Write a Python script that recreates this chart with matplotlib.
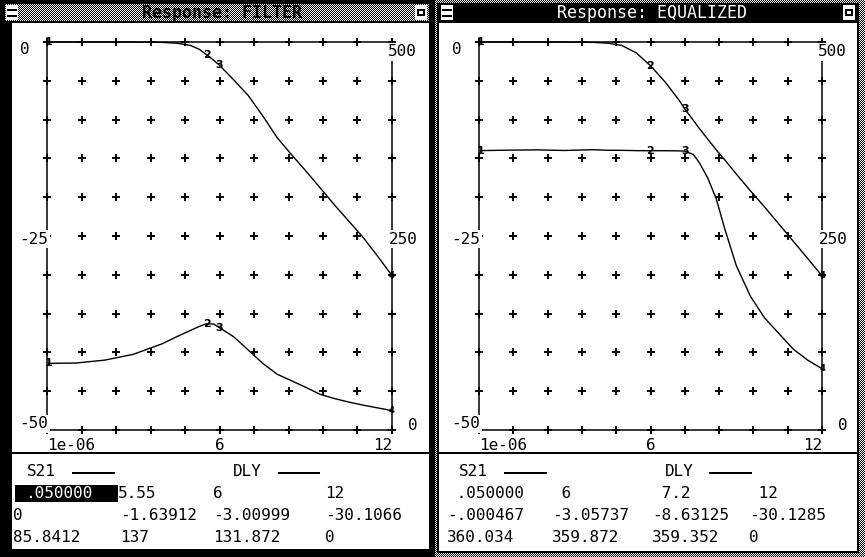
import numpy as np
import matplotlib
matplotlib.use("Agg")
import matplotlib.pyplot as plt
from matplotlib.patches import Rectangle

W, H = 865, 557
MONO = "DejaVu Sans Mono"

# ---- FILTER window traces -------------------------------------------------
filter_freq = [0.05, 1, 2, 3, 4, 4.5, 5, 5.3, 5.55, 5.8, 6, 6.5, 7, 7.5, 8,
               8.5, 9, 9.5, 10, 10.5, 11, 11.5, 12]
filter_s21 = [0, 0, 0, 0, -0.05, -0.15, -0.45, -0.95, -1.63912, -2.35,
              -3.00999, -4.9, -6.9, -9.5, -12.3, -14.5, -16.6, -18.8, -21.0,
              -23.1, -25.2, -27.6, -30.1066]
filter_dly = [85.8412, 86.3, 90, 97.5, 111, 120, 128.5, 133.5, 137, 136.5,
              131.872, 120, 103, 86, 72, 63.5, 55, 46, 40.5, 36, 32, 28.5, 25]
filter_markers = [0.05, 5.55, 6, 12]

# ---- EQUALIZED window traces ----------------------------------------------
eq_freq = [0.05, 1, 2, 3, 4, 4.5, 5, 5.5, 6, 6.5, 7, 7.2, 7.5, 7.7, 8, 8.3,
           8.6, 9, 9.5, 10, 10.5, 11, 11.5, 12]
eq_s21 = [-0.000467, 0, 0, 0, -0.05, -0.15, -0.45, -1.4, -3.05737, -5.1,
          -7.5, -8.63125, -10.1, -11.1, -12.5, -13.9, -15.2, -17.0, -19.2,
          -21.3, -23.5, -25.7, -27.9, -30.1285]
eq_dly = [360.034, 360.6, 361, 360.2, 361.2, 360.5, 360.4, 360, 359.872,
          359.9, 359.7, 359.352, 355, 345, 325, 298, 259, 212, 172, 144, 124,
          104, 90, 79]
eq_markers = [0.05, 6, 7.2, 12]

# ---- axis scales and labels -----------------------------------------------
freq_range = (1e-6, 12)
s21_range = (-50, 0)
dly_range = (0, 500)
x_tick_vals = [1e-6, 6, 12]
x_tick_text = ["1e-06", "6", "12"]
s21_tick_vals = [0, -25, -50]
s21_tick_text = ["0", "-25", "-50"]
dly_tick_vals = [500, 250, 0]
dly_tick_text = ["500", "250", "0"]

# ---- marker readouts --------------------------------------------------------
filter_readout = [[".050000", "5.55", "6", "12"],
                  ["0", "-1.63912", "-3.00999", "-30.1066"],
                  ["85.8412", "137", "131.872", "0"]]
eq_readout = [[" .050000", " 6", " 7.2", " 12"],
              ["-.000467", "-3.05737", "-8.63125", "-30.1285"],
              ["360.034", "359.872", "359.352", "0"]]

fig = plt.figure(figsize=(W / 100, H / 100), dpi=100)
fig.patch.set_facecolor("white")

bg = fig.add_axes([0, 0, 1, 1])
bg.set_xlim(0, W)
bg.set_ylim(H, 0)
bg.axis("off")


def rect(x0, y0, x1, y1, color, z=1):
    bg.add_patch(Rectangle((x0, y0), x1 - x0, y1 - y0, facecolor=color,
                           edgecolor="none", zorder=z))


def dither(x0, y0, x1, y1, z=2):
    arr = np.add.outer(np.arange(y1 - y0), np.arange(x1 - x0)) % 2
    bg.imshow(arr, cmap="gray", vmin=0, vmax=1, extent=(x0, x1, y1, y0),
              interpolation="nearest", zorder=z, aspect="auto")


def menu_icon(x0, y0):
    rect(x0, y0, x0 + 12, y0 + 15, "white", 5)
    rect(x0 + 1, y0 + 4, x0 + 11, y0 + 6, "black", 6)
    rect(x0 + 1, y0 + 10, x0 + 11, y0 + 12, "black", 6)


def size_icon(x0, y0):
    rect(x0, y0, x0 + 12, y0 + 15, "white", 5)
    rect(x0 + 2, y0 + 4, x0 + 10, y0 + 11, "black", 6)
    rect(x0 + 4, y0 + 6, x0 + 8, y0 + 9, "white", 7)


# window frames
rect(0, 0, 435, H, "black", 1)
rect(12, 23, 429, 549, "white", 2)
dither(5, 4, 429, 21, 3)
menu_icon(6, 5)
size_icon(415, 5)

dither(435, 0, W, H, 1)
rect(437, 3, 859, 553, "black", 2)
rect(439, 23, 857, 551, "white", 3)
menu_icon(441, 5)
size_icon(843, 5)

bg.text(222, 13, "Response: FILTER", ha="center", va="center",
        family=MONO, fontsize=12, fontweight="bold", color="black", zorder=8)
bg.text(652, 13, "Response: EQUALIZED", ha="center", va="center",
        family=MONO, fontsize=12, color="white", zorder=8)

# separators between plot and readout
rect(12, 452, 429, 454, "black", 4)
rect(439, 452, 857, 454, "black", 4)


def px_axes(x0, y0, x1, y1):
    return fig.add_axes([x0 / W, 1 - y1 / H, (x1 - x0) / W, (y1 - y0) / H])


LBL = dict(family=MONO, fontsize=11.5, color="black")
BOX = dict(boxstyle="square,pad=0.12", facecolor="white", edgecolor="none")


def draw_response(box, freq, s21, dly, markers):
    ax = px_axes(*box)
    ax.set_xlim(*freq_range)
    ax.set_ylim(*s21_range)
    ax.patch.set_alpha(0)
    ax.tick_params(length=0, labelleft=False, labelbottom=False)
    for sp in ax.spines.values():
        sp.set_linewidth(1.1)
    ax2 = ax.twinx()
    ax2.set_ylim(*dly_range)
    ax2.tick_params(length=0, labelright=False)
    for sp in ax2.spines.values():
        sp.set_visible(False)

    gx, gy = np.meshgrid(np.linspace(*freq_range, 11), np.linspace(*s21_range, 11))
    ax.plot(gx.ravel(), gy.ravel(), "+", color="black", ms=6, mew=1.4,
            clip_on=False, zorder=2)

    ax.plot(freq, s21, color="black", lw=1.0, zorder=3, clip_on=False)
    ax2.plot(freq, dly, color="black", lw=1.0, zorder=3, clip_on=False)

    for k, m in enumerate(markers):
        i = freq.index(m)
        size = 6 if k == len(markers) - 1 else 8
        ax.text(m, s21[i], str(k + 1), ha="center", va="center",
                fontsize=size, fontweight="bold", zorder=5)
        ax2.text(m, dly[i], str(k + 1), ha="center", va="center",
                 fontsize=size, fontweight="bold", zorder=5)

    # left scale (S21, dB)
    offs_l = [(-22, -8, "center", None), (1, -3, "right", BOX), (1, 6, "right", BOX)]
    for v, t, (dx, dy, ha, bb) in zip(s21_tick_vals, s21_tick_text, offs_l):
        ax.annotate(t, xy=(freq_range[0], v), xytext=(dx, dy),
                    textcoords="offset pixels", ha=ha, va="center", bbox=bb,
                    annotation_clip=False, zorder=6, **LBL)
    # right scale (delay)
    offs_r = [(-4, -10, "left", BOX), (-3, -3, "left", BOX), (21, 5, "center", None)]
    for v, t, (dx, dy, ha, bb) in zip(dly_tick_vals, dly_tick_text, offs_r):
        ax2.annotate(t, xy=(freq_range[1], v), xytext=(dx, dy),
                     textcoords="offset pixels", ha=ha, va="center", bbox=bb,
                     annotation_clip=False, zorder=6, **LBL)
    # frequency scale
    for v, t, ha in zip(x_tick_vals, x_tick_text, ["left", "center", "right"]):
        ax.annotate(t, xy=(v, s21_range[0]), xytext=(0, -15),
                    textcoords="offset pixels", ha=ha, va="center",
                    annotation_clip=False, **LBL)
    return ax


draw_response((47, 42, 392, 430), filter_freq, filter_s21, filter_dly, filter_markers)
draw_response((479, 42, 822, 430), eq_freq, eq_s21, eq_dly, eq_markers)


def ftext(x, y, s, color="black"):
    fig.text(x / W, 1 - y / H, s, ha="left", va="center", color=color,
             family=MONO, fontsize=11.5, zorder=10)


def readout(x_s21, x_dly, line_s21, line_dly, row_xs, rows, highlight=None):
    ftext(x_s21, 471, "S21")
    ftext(x_dly, 471, "DLY")
    rect(line_s21[0], 472, line_s21[1], 473.5, "black", 6)
    rect(line_dly[0], 472, line_dly[1], 473.5, "black", 6)
    if highlight is not None:
        rect(*highlight, "black", 6)
    for r, (xs, row) in enumerate(zip(row_xs, rows)):
        y = 493 + 22 * r
        for c, (x, s) in enumerate(zip(xs, row)):
            col = "white" if (highlight is not None and r == 0 and c == 0) else "black"
            ftext(x, y, s, col)


readout(27, 233, (72, 115), (278, 320),
        [[25, 118, 213, 325], [13, 120, 213, 325], [13, 120, 213, 325]],
        filter_readout, highlight=(15, 485, 118, 502))
readout(459, 665, (504, 547), (709, 752),
        [[447, 552, 652, 749]] * 3, eq_readout)

fig.savefig("out.png", dpi=100)
